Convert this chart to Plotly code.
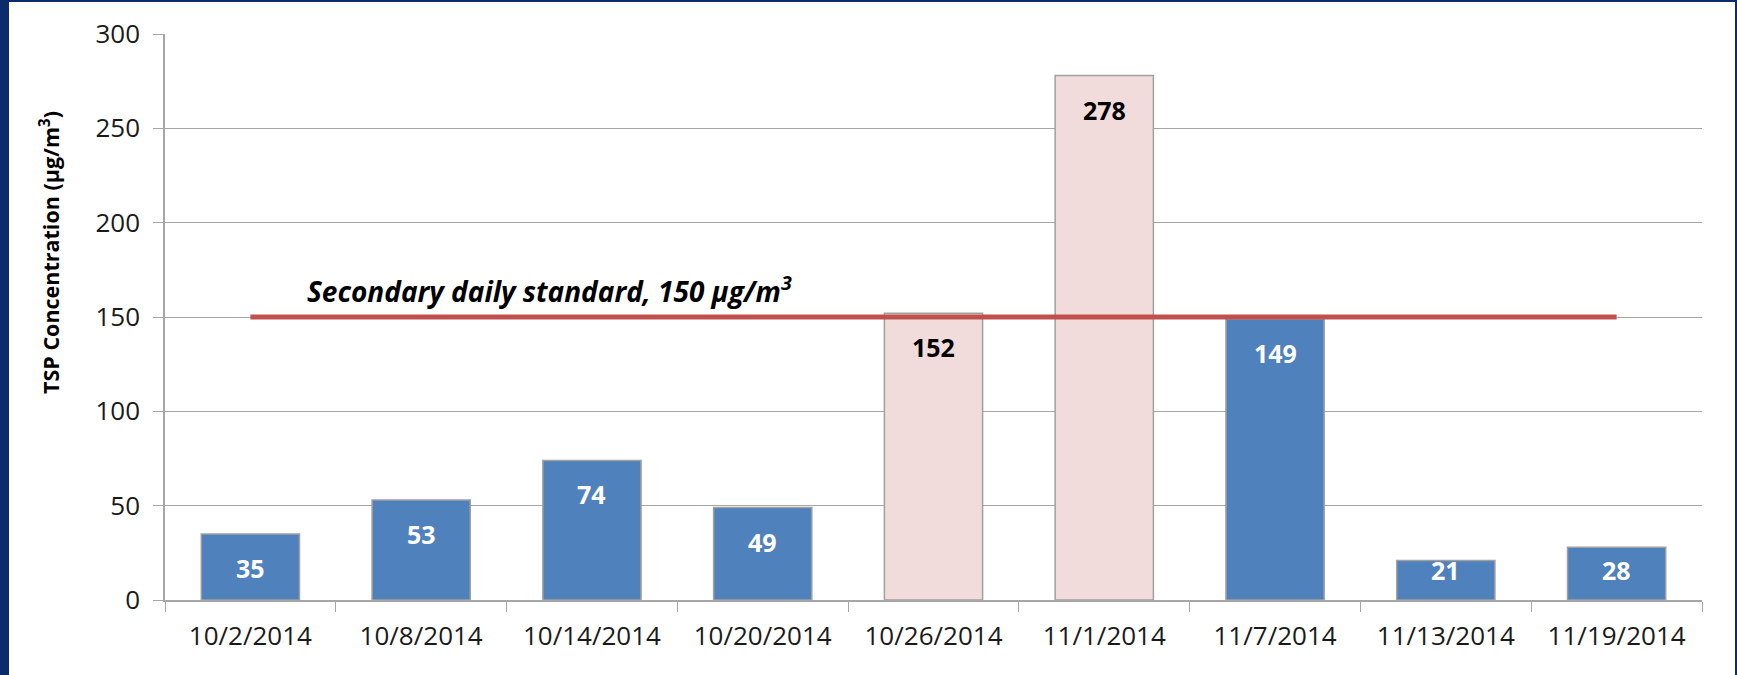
import plotly.graph_objects as go

dates = ["10/2/2014", "10/8/2014", "10/14/2014", "10/20/2014", "10/26/2014",
         "11/1/2014", "11/7/2014", "11/13/2014", "11/19/2014"]
tsp = [35, 53, 74, 49, 152, 278, 149, 21, 28]
standard = 150
standard_label = "<b><i>Secondary daily standard, 150 µg/m<sup>3</sup></i></b>"
y_title = "<b>TSP Concentration (µg/m<sup>3</sup>)</b>"
y_ticks = [0, 50, 100, 150, 200, 250, 300]

BLUE = "#4F81BD"
PINK = "#F2DCDB"
RED = "#C0504D"
GRID = "#A6A6A6"
FONT = "Open Sans"

# plot area in pixels
W, H = 1737, 675
L, R, T, B = 165, 35, 34, 75
pw, ph = W - L - R, H - T - B
YMAX = 300

bar_colors = [PINK if v > standard else BLUE for v in tsp]
label_colors = ["black" if v > standard else "white" for v in tsp]


def px_to_paper_x(px):
    return (px - L) / pw


def px_to_paper_y(py):
    return (H - B - py) / ph


fig = go.Figure()
fig.add_trace(go.Bar(
    x=dates, y=tsp,
    marker=dict(color=bar_colors, line=dict(color="#A0A0A0", width=1.5)),
    width=0.575, showlegend=False, hoverinfo="x+y",
))
fig.add_trace(go.Scatter(
    x=[dates[0], dates[-1]], y=[standard, standard],
    mode="lines", line=dict(color=RED, width=5), showlegend=False,
))

annotations = []
for d, v, c in zip(dates, tsp, label_colors):
    bar_px = v * ph / YMAX
    offset = min(34, bar_px - 30)  # keep label inside the bar, like Excel "inside end"
    annotations.append(dict(
        x=d, y=v, xref="x", yref="y", text=f"<b>{v}</b>", showarrow=False,
        yshift=-offset, font=dict(family=FONT, size=25, color=c),
    ))
annotations.append(dict(
    x=dates[0], y=standard, xref="x", yref="y", text=standard_label,
    showarrow=False, xanchor="left", yanchor="middle", xshift=55, yshift=28,
    font=dict(family=FONT, size=28, color="black"),
))
annotations.append(dict(
    x=px_to_paper_x(50), y=px_to_paper_y(253), xref="paper", yref="paper",
    text=y_title, textangle=-90, showarrow=False,
    xanchor="center", yanchor="middle",
    font=dict(family=FONT, size=21.5, color="black"),
))

shapes = [dict(
    type="rect", xref="paper", yref="paper", layer="below",
    x0=px_to_paper_x(9), x1=px_to_paper_x(1735),
    y0=px_to_paper_y(H + 5), y1=px_to_paper_y(2),
    fillcolor="white", line=dict(width=0),
)]

fig.update_layout(
    width=W, height=H,
    margin=dict(l=L, r=R, t=T, b=B),
    paper_bgcolor="#0B2B6C",
    plot_bgcolor="rgba(0,0,0,0)",
    annotations=annotations,
    shapes=shapes,
    font=dict(family=FONT, color="black"),
    xaxis=dict(
        type="category", tickson="boundaries", ticks="outside", ticklen=10,
        tickcolor=GRID, showline=True, linecolor=GRID, linewidth=1.5,
        showgrid=False, automargin=False, ticklabelstandoff=12,
        tickfont=dict(size=26, color="#1a1a1a"),
    ),
    yaxis=dict(
        range=[0, YMAX], tickvals=y_ticks, ticks="outside", ticklen=10,
        tickcolor=GRID, showline=True, linecolor=GRID, linewidth=1.5,
        showgrid=True, gridcolor=GRID, gridwidth=1.2, zeroline=False,
        automargin=False, ticklabelstandoff=8,
        tickfont=dict(size=26, color="#1a1a1a"),
    ),
)

fig.write_html("out.html", config={"displayModeBar": False},
               post_script="document.body.style.margin='0px';")
